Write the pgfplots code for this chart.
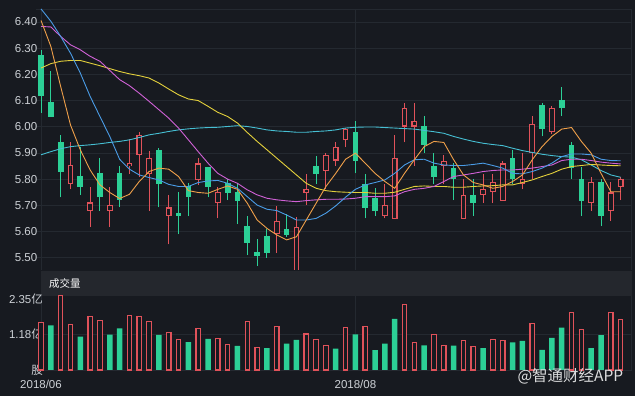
\documentclass[border=0pt]{standalone}
\usepackage{pgfplots}
\pgfplotsset{compat=1.18}
\usepackage{pgfplotstable}
\usetikzlibrary{calc}
\usepackage{fontspec}
\setmainfont{Liberation Sans}
\newfontfamily\cjk{Noto Sans CJK SC}
\definecolor{bg}{HTML}{171A20}
\definecolor{band}{HTML}{24272D}
\definecolor{gridc}{HTML}{242930}
\definecolor{upc}{HTML}{E0525A}
\definecolor{dnc}{HTML}{2CD096}
\definecolor{txt}{HTML}{CDD1D6}
\definecolor{ma5}{HTML}{F0A04A}
\definecolor{ma10}{HTML}{4A9CE6}
\definecolor{ma20}{HTML}{D061D6}
\definecolor{ma30}{HTML}{E3D03C}
\definecolor{ma60}{HTML}{46BFD3}
\pgfdeclarelayer{background}
\pgfsetlayers{background,main}

\pgfplotstableread{
i o h l c
3 5.780 5.940 5.761 5.853
5 5.679 5.769 5.618 5.711
7 5.679 5.769 5.618 5.700
9 5.849 5.952 5.820 5.862
10 5.891 5.980 5.809 5.970
11 5.820 5.909 5.679 5.881
13 5.659 5.739 5.551 5.692
16 5.797 5.880 5.777 5.860
18 5.710 5.769 5.650 5.751
24 5.589 5.697 5.519 5.641
26 5.450 5.656 5.440 5.618
27 5.748 5.820 5.702 5.761
29 5.830 5.899 5.761 5.891
30 5.871 5.940 5.852 5.922
31 5.950 5.995 5.922 5.993
35 5.659 5.781 5.650 5.700
36 5.649 5.970 5.649 5.880
37 6.001 6.090 5.940 6.071
38 6.001 6.090 5.850 6.021
41 5.850 5.891 5.780 5.871
43 5.649 5.799 5.649 5.741
45 5.741 5.820 5.710 5.761
46 5.749 5.820 5.710 5.790
47 5.718 5.871 5.718 5.860
49 5.780 5.901 5.761 5.801
50 5.901 6.042 5.799 6.011
52 5.980 6.080 5.971 6.071
56 5.710 5.809 5.679 5.790
58 5.679 5.790 5.640 5.749
59 5.769 5.809 5.720 5.801
}\upC

\pgfplotstableread{
i o h l c
0 6.275 6.292 6.052 6.119
1 6.093 6.211 6.039 6.039
2 5.941 5.970 5.730 5.829
4 5.812 5.924 5.741 5.769
6 5.822 5.881 5.679 5.730
8 5.822 5.850 5.692 5.720
12 5.911 5.920 5.692 5.780
14 5.670 5.749 5.590 5.658
15 5.774 5.784 5.659 5.730
17 5.845 5.848 5.730 5.769
19 5.784 5.801 5.720 5.748
20 5.752 5.786 5.628 5.718
21 5.621 5.659 5.510 5.557
22 5.520 5.570 5.468 5.507
23 5.582 5.610 5.499 5.519
25 5.610 5.665 5.580 5.588
28 5.852 5.890 5.780 5.820
32 5.980 6.021 5.822 5.869
33 5.781 5.820 5.650 5.688
34 5.729 5.767 5.659 5.679
39 6.001 6.042 5.901 5.929
40 5.852 5.899 5.780 5.809
42 5.841 5.860 5.720 5.801
44 5.741 5.799 5.660 5.710
48 5.881 5.911 5.780 5.799
51 6.082 6.090 5.963 5.991
53 6.103 6.151 6.042 6.071
54 5.931 5.940 5.801 5.841
55 5.801 5.848 5.660 5.718
57 5.790 5.801 5.621 5.659
}\dnC

\pgfplotstableread{
i m5 m10 m20 m30 m60
0 6.406 6.450 6.383 6.224 5.893
1 6.307 6.403 6.381 6.241 5.905
2 6.154 6.345 6.345 6.250 5.916
3 6.007 6.281 6.313 6.253 5.924
4 5.912 6.205 6.294 6.253 5.928
5 5.835 6.116 6.269 6.243 5.931
6 5.778 6.039 6.250 6.233 5.935
7 5.749 5.963 6.215 6.222 5.940
8 5.726 5.876 6.180 6.211 5.944
9 5.742 5.838 6.157 6.202 5.950
10 5.791 5.816 6.128 6.195 5.959
11 5.829 5.806 6.097 6.186 5.969
12 5.842 5.797 6.065 6.167 5.975
13 5.838 5.780 6.033 6.144 5.982
14 5.810 5.772 5.995 6.122 5.988
15 5.756 5.772 5.950 6.106 5.992
16 5.749 5.787 5.905 6.100 5.995
17 5.746 5.793 5.861 6.078 5.997
18 5.761 5.795 5.822 6.055 5.998
19 5.774 5.784 5.800 6.039 6.001
20 5.761 5.765 5.784 6.014 6.004
21 5.708 5.733 5.759 5.978 6.001
22 5.644 5.701 5.740 5.944 5.995
23 5.612 5.685 5.727 5.912 5.988
24 5.587 5.680 5.721 5.880 5.984
25 5.568 5.663 5.717 5.848 5.982
26 5.580 5.644 5.714 5.816 5.979
27 5.644 5.644 5.718 5.784 5.979
28 5.708 5.650 5.721 5.765 5.982
29 5.772 5.670 5.723 5.756 5.984
30 5.822 5.698 5.723 5.752 5.988
31 5.876 5.731 5.724 5.750 5.995
32 5.899 5.761 5.727 5.749 5.998
33 5.861 5.778 5.733 5.749 5.999
34 5.822 5.787 5.733 5.746 5.999
35 5.791 5.797 5.733 5.746 5.997
36 5.765 5.822 5.736 5.750 5.995
37 5.822 5.854 5.752 5.761 5.993
38 5.874 5.874 5.761 5.772 5.991
39 5.924 5.876 5.765 5.774 5.986
40 5.944 5.861 5.772 5.772 5.981
41 5.940 5.854 5.791 5.772 5.975
42 5.874 5.852 5.810 5.769 5.963
43 5.816 5.852 5.816 5.769 5.953
44 5.787 5.856 5.822 5.772 5.944
45 5.778 5.861 5.829 5.774 5.937
46 5.765 5.852 5.833 5.775 5.932
47 5.772 5.842 5.835 5.778 5.928
48 5.791 5.822 5.835 5.778 5.918
49 5.816 5.820 5.838 5.787 5.909
50 5.874 5.829 5.842 5.797 5.902
51 5.924 5.842 5.848 5.810 5.895
52 5.963 5.861 5.854 5.822 5.890
53 5.991 5.886 5.871 5.838 5.886
54 5.997 5.896 5.876 5.848 5.884
55 5.944 5.896 5.876 5.852 5.874
56 5.899 5.893 5.871 5.856 5.854
57 5.822 5.876 5.865 5.854 5.833
58 5.752 5.871 5.861 5.852 5.816
59 5.752 5.870 5.858 5.851 5.807
}\maT

\pgfplotstableread{
i v
0 1.59
2 2.48
3 1.51
5 1.79
6 1.66
9 1.82
10 1.77
11 1.62
13 1.26
14 1.02
16 1.39
18 1.06
19 0.86
21 1.62
22 0.76
24 1.44
27 1.20
28 1.02
29 0.82
31 1.42
33 1.44
37 2.19
38 0.92
40 1.17
41 0.81
43 0.97
44 0.78
46 1.02
47 0.98
50 1.56
54 1.91
55 1.36
58 1.92
59 1.69
}\volUp

\pgfplotstableread{
i v
1 1.49
4 1.11
7 1.18
8 1.39
12 1.17
15 0.93
17 1.04
20 0.80
23 0.73
25 0.88
26 1.00
30 0.71
32 1.19
34 0.66
35 0.88
36 1.70
39 0.82
42 0.81
45 0.73
48 0.92
49 0.97
51 0.67
52 1.07
53 1.41
56 0.73
57 1.16
}\volDn

\pgfplotsset{
  kax/.style={scale only axis, width=595.6pt, xmin=-0.5, xmax=60.12,
    axis line style={draw=none}, tick style={draw=none}, major tick length=0pt,
    grid=major, major grid style={draw=gridc, line width=0.8pt},
    ticklabel style={font=\fontsize{11.5}{13}\selectfont, text=txt},
    /pgf/number format/assume math mode=true},
  wick/.style={draw=none, mark=none, forget plot,
    error bars/.cd, y dir=plus, y explicit, error mark=none,
    error bar style={draw=#1, line width=1pt}},
  body/.style 2 args={draw=none, mark=none, forget plot,
    error bars/.cd, y dir=both, y explicit, error mark=none,
    error bar style={draw=#1, line width=#2}},
}

\begin{document}
\begin{tikzpicture}[x=1pt,y=1pt]
% price panel
\begin{scope}[shift={(36.09,126)}]
\begin{axis}[kax, name=main, height=261pt,
  ymin=5.4531, ymax=6.4496,
  ytick={5.5,5.6,5.7,5.8,5.9,6.0,6.1,6.2,6.3,6.4,6.4496},
  yticklabels={5.50,5.60,5.70,5.80,5.90,6.00,6.10,6.20,6.30,6.40,{}},
  yticklabel style={anchor=east, inner sep=0pt, xshift=1.4pt},
  xtick={0,32,60.12}, xticklabels={,,}]
  \addplot[wick=upc] table[x=i, y=l, y error expr={\thisrow{h}-\thisrow{l}}] \upC;
  \addplot[wick=dnc] table[x=i, y=l, y error expr={\thisrow{h}-\thisrow{l}}] \dnC;
  \addplot[body={upc}{5.7pt}] table[x=i, y expr={(\thisrow{o}+\thisrow{c})/2}, y error expr={(\thisrow{c}-\thisrow{o})/2}] \upC;
  \addplot[body={bg}{3.5pt}] table[x=i, y expr={(\thisrow{o}+\thisrow{c})/2}, y error expr={max((\thisrow{c}-\thisrow{o})/2-0.0042,0)}] \upC;
  \addplot[body={dnc}{5.7pt}] table[x=i, y expr={(\thisrow{o}+\thisrow{c})/2}, y error expr={(\thisrow{o}-\thisrow{c})/2}] \dnC;
  \addplot[ma60, line width=0.9pt] table[x=i, y=m60] \maT;
  \addplot[ma30, line width=0.9pt] table[x=i, y=m30] \maT;
  \addplot[ma20, line width=0.9pt] table[x=i, y=m20] \maT;
  \addplot[ma10, line width=0.9pt] table[x=i, y=m10] \maT;
  \addplot[ma5, line width=0.9pt] table[x=i, y=m5] \maT;
\end{axis}
\end{scope}

% volume panel
\begin{scope}[shift={(36.09,26)}]
\begin{axis}[kax, name=vol, height=74pt, clip=false,
  ymin=0, ymax=2.467,
  ytick={0,1.18}, yticklabels={{\cjk 股},{1.18{\cjk 亿}}},
  extra y ticks={2.35}, extra y tick labels={{2.35{\cjk 亿}}},
  extra y tick style={grid=none},
  yticklabel style={anchor=east, inner sep=0pt, xshift=7pt},
  xtick={0,32,60.12}, xticklabels={2018/06,2018/08,{}},
  xticklabel style={anchor=north, inner sep=0pt, yshift=-9.5pt}]
  \addplot[ybar, bar width=4.4pt, bar shift=0pt, draw=upc, line width=1.2pt, fill=bg] table[x=i, y=v] \volUp;
  \addplot[ybar, bar width=5.5pt, bar shift=0pt, draw=none, fill=dnc] table[x=i, y=v] \volDn;
\end{axis}
\end{scope}

\coordinate (O) at ($(main.south west)+(-36.09,-126)$);
\begin{pgfonlayer}{background}
\fill[bg] (O) rectangle ++(635,396);
\fill[band] ($(O)+(41,100)$) rectangle ++(591,25);
\end{pgfonlayer}
\node[anchor=west, inner sep=0pt, text=white!90!txt, font=\cjk\fontsize{10.5}{12}\selectfont] at ($(O)+(49,112.5)$) {成交量};
\node[anchor=east, inner sep=0pt, text=white!85!bg, font=\cjk\fontsize{15.5}{17}\selectfont] at ($(O)+(623.5,19.5)$) {@智通财经APP};
\end{tikzpicture}
\end{document}
